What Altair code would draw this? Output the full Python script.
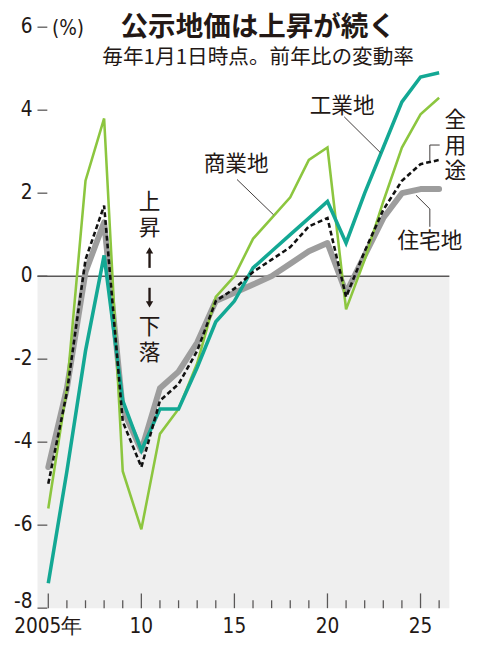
import altair as alt
import pandas as pd

# ---------------- data ----------------
years = list(range(2005, 2027))
residential = [-4.6, -2.7, 0.1, 1.3, -3.2, -4.2, -2.7, -2.3, -1.6, -0.6, -0.4,
               -0.2, 0.0, 0.3, 0.6, 0.8, -0.4, 0.5, 1.4, 2.0, 2.1, 2.1]
all_use = [-5.0, -2.8, 0.4, 1.7, -3.5, -4.6, -3.0, -2.6, -1.8, -0.6, -0.3,
           0.1, 0.4, 0.7, 1.2, 1.4, -0.5, 0.6, 1.6, 2.3, 2.7, 2.8]
commercial = [-5.6, -2.7, 2.3, 3.8, -4.7, -6.1, -3.8, -3.2, -2.1, -0.5, 0.0,
              0.9, 1.4, 1.9, 2.8, 3.1, -0.8, 0.4, 1.8, 3.1, 3.9, 4.3]
industrial = [-7.4, -4.7, -1.8, 0.5, -3.0, -4.2, -3.2, -3.2, -2.2, -1.1, -0.6,
              0.2, 0.6, 1.0, 1.4, 1.8, 0.8, 2.0, 3.1, 4.2, 4.8, 4.9]

x_tick_values = [2005, 2010, 2015, 2020, 2025]
x_tick_labels = ["2005年", "10", "15", "20", "25"]
y_tick_values = [-8, -6, -4, -2, 0, 2, 4, 6]
y_tick_labels = ["-8", "-6", "-4", "-2", "0", "2", "4", "6"]

title_text = "公示地価は上昇が続く"
subtitle_text = "毎年1月1日時点。前年比の変動率"
unit_text = "(%)"

# horizontal annotation labels (data coordinates)
ann_text = ["商業地", "工業地", "住宅地"]
ann_year = [2015.09, 2020.79, 2025.50]
ann_value = [2.71, 4.10, 0.84]

# vertical (stacked) annotation labels, position of the first character
vert_text = ["全\n用\n途", "上\n昇", "下\n落"]
vert_year = [2026.87, 2010.44, 2010.44]
vert_value = [3.76, 1.78, -1.23]

# leader lines (data coordinates)
lead_x1 = [2015.14, 2020.90, 2025.50, 2025.50, 2024.76, 2025.50]
lead_y1 = [2.33, 3.84, 3.16, 3.16, 1.95, 1.62]
lead_x2 = [2017.10, 2022.86, 2026.03, 2025.50, 2025.50, 2025.50]
lead_y2 = [1.48, 2.97, 3.16, 2.78, 1.62, 1.19]

# arrows 上昇 / 下落
arrow_x = [2010.44, 2010.44]
arrow_from = [0.20, -0.28]
arrow_to = [0.62, -0.68]
arrow_shape = ["triangle-up", "triangle-down"]

# ---------------- styling ----------------
W, H = 419, 591
X_DOMAIN = [2004.42, 2026.55]
Y_DOMAIN = [-8, 6]
INK = "#231815"
AXIS_C = "#595757"
NUMFONT = "Liberation Sans Narrow, DejaVu Sans Condensed, Liberation Sans, sans-serif"
JPFONT = "Noto Sans CJK JP"

xs = alt.Scale(domain=X_DOMAIN, nice=False, zero=False)
ys = alt.Scale(domain=Y_DOMAIN, nice=False, zero=False)

x_axis = alt.Axis(values=x_tick_values, labels=False, ticks=False, grid=False, domain=True,
                  domainColor=AXIS_C, domainWidth=1.5, title=None)
y_axis = alt.Axis(values=y_tick_values, labels=False, ticks=False, grid=False, domain=True,
                  domainColor=AXIS_C, domainWidth=1.5, title=None)

df = pd.DataFrame({"year": years, "res": residential, "all": all_use,
                   "com": commercial, "ind": industrial})
base = alt.Chart(df)

# shaded negative area
shade = alt.Chart(pd.DataFrame({"hi": [0], "lo": [Y_DOMAIN[0]]})).mark_rect(
    color="#efefef").encode(
    x=alt.value(0), x2=alt.value(W),
    y=alt.Y("hi:Q", scale=ys, axis=None), y2="lo:Q")

zero = alt.Chart(pd.DataFrame({"v": [0]})).mark_rule(color=AXIS_C, strokeWidth=1.5).encode(
    x=alt.value(0), x2=alt.value(W), y=alt.Y("v:Q", scale=ys, axis=None))

gray = base.mark_line(color="#9d9d9d", strokeWidth=6, strokeCap="round", strokeJoin="round").encode(
    x=alt.X("year:Q", scale=xs, axis=x_axis), y=alt.Y("res:Q", scale=ys, axis=y_axis))
green = base.mark_line(color="#8cc63f", strokeWidth=2.6).encode(
    x=alt.X("year:Q", scale=xs, axis=None), y=alt.Y("com:Q", scale=ys, axis=None))
teal = base.mark_line(color="#13a894", strokeWidth=3.6).encode(
    x=alt.X("year:Q", scale=xs, axis=None), y=alt.Y("ind:Q", scale=ys, axis=None))
dashed = base.mark_line(color="#111111", strokeWidth=2.6, strokeDash=[5, 3]).encode(
    x=alt.X("year:Q", scale=xs, axis=None), y=alt.Y("all:Q", scale=ys, axis=None))

# inward ticks
xt = pd.DataFrame({"year": years, "major": [y % 5 == 0 for y in years]})
xticks_minor = alt.Chart(xt[~xt.major]).mark_rule(color=AXIS_C, strokeWidth=1.3).encode(
    x=alt.X("year:Q", scale=xs, axis=None), y=alt.value(H), y2=alt.value(H - 8))
xticks_major = alt.Chart(xt[xt.major]).mark_rule(color=AXIS_C, strokeWidth=1.3).encode(
    x=alt.X("year:Q", scale=xs, axis=None), y=alt.value(H), y2=alt.value(H - 15))
yticks = alt.Chart(pd.DataFrame({"v": y_tick_values})).mark_rule(color=AXIS_C, strokeWidth=1.3).encode(
    y=alt.Y("v:Q", scale=ys, axis=None), x=alt.value(0), x2=alt.value(10))

# tick labels as text through the scales
xlab = alt.Chart(pd.DataFrame({"v": x_tick_values, "t": x_tick_labels})).mark_text(
    font=NUMFONT, fontSize=21, color=INK, align="center", baseline="top").encode(
    x=alt.X("v:Q", scale=xs, axis=None), y=alt.value(H + 8), text="t:N")
ydf = pd.DataFrame({"v": y_tick_values, "t": y_tick_labels})
ylab = alt.Chart(ydf[ydf.v > Y_DOMAIN[0]]).mark_text(
    font=NUMFONT, fontSize=21, color=INK, align="right", baseline="middle").encode(
    y=alt.Y("v:Q", scale=ys, axis=None), x=alt.value(-5), text="t:N")
ylab_bottom = alt.Chart(ydf[ydf.v == Y_DOMAIN[0]]).mark_text(
    font=NUMFONT, fontSize=21, color=INK, align="right", baseline="middle", dy=-6).encode(
    y=alt.Y("v:Q", scale=ys, axis=None), x=alt.value(-5), text="t:N")

# annotations
ann = alt.Chart(pd.DataFrame({"t": ann_text, "x": ann_year, "y": ann_value})).mark_text(
    font=JPFONT, fontSize=22, color=INK, align="center", baseline="middle").encode(
    x=alt.X("x:Q", scale=xs, axis=None), y=alt.Y("y:Q", scale=ys, axis=None), text="t:N")
vert = alt.Chart(pd.DataFrame({"t": vert_text, "x": vert_year, "y": vert_value})).mark_text(
    font=JPFONT, fontSize=22, color=INK, align="center", baseline="middle",
    lineBreak="\n", lineHeight=26).encode(
    x=alt.X("x:Q", scale=xs, axis=None), y=alt.Y("y:Q", scale=ys, axis=None), text="t:N")

leaders = alt.Chart(pd.DataFrame({"x": lead_x1, "y": lead_y1, "x2": lead_x2, "y2": lead_y2})).mark_rule(
    color="#3e3a39", strokeWidth=1).encode(
    x=alt.X("x:Q", scale=xs, axis=None), y=alt.Y("y:Q", scale=ys, axis=None), x2="x2:Q", y2="y2:Q")

arr_df = pd.DataFrame({"x": arrow_x, "a": arrow_from, "b": arrow_to, "shape": arrow_shape})
shafts = alt.Chart(arr_df).mark_rule(color=INK, strokeWidth=2.4).encode(
    x=alt.X("x:Q", scale=xs, axis=None), y=alt.Y("a:Q", scale=ys, axis=None), y2="b:Q")
heads = alt.Chart(arr_df).mark_point(filled=True, color=INK, size=55, opacity=1).encode(
    x=alt.X("x:Q", scale=xs, axis=None), y=alt.Y("b:Q", scale=ys, axis=None),
    shape=alt.Shape("shape:N", scale=None, legend=None))

# titles
title = alt.Chart(pd.DataFrame({"t": [title_text]})).mark_text(
    font=JPFONT, fontSize=28, fontWeight="bold", color=INK, align="center", baseline="middle").encode(
    text="t:N", x=alt.value(224.5), y=alt.value(1))
subtitle = alt.Chart(pd.DataFrame({"t": [subtitle_text]})).mark_text(
    font=JPFONT, fontSize=21, color=INK, align="center", baseline="middle").encode(
    text="t:N", x=alt.value(224.5), y=alt.value(31))
unit = alt.Chart(pd.DataFrame({"t": [unit_text]})).mark_text(
    font=NUMFONT, fontSize=21, color=INK, align="center", baseline="middle").encode(
    text="t:N", x=alt.value(31), y=alt.value(2))

chart = alt.layer(
    shade, zero, xticks_minor, xticks_major, yticks,
    gray, green, teal, dashed,
    leaders, shafts, heads, ann, vert, xlab, ylab, ylab_bottom, title, subtitle, unit,
).properties(
    width=W, height=H,
    padding={"left": 30, "top": 14, "right": 22, "bottom": 34},
    autosize=alt.AutoSizeParams(type="none"),
).configure_view(stroke=None)

chart.save("out.html", embed_options={"renderer": "svg", "actions": False})
